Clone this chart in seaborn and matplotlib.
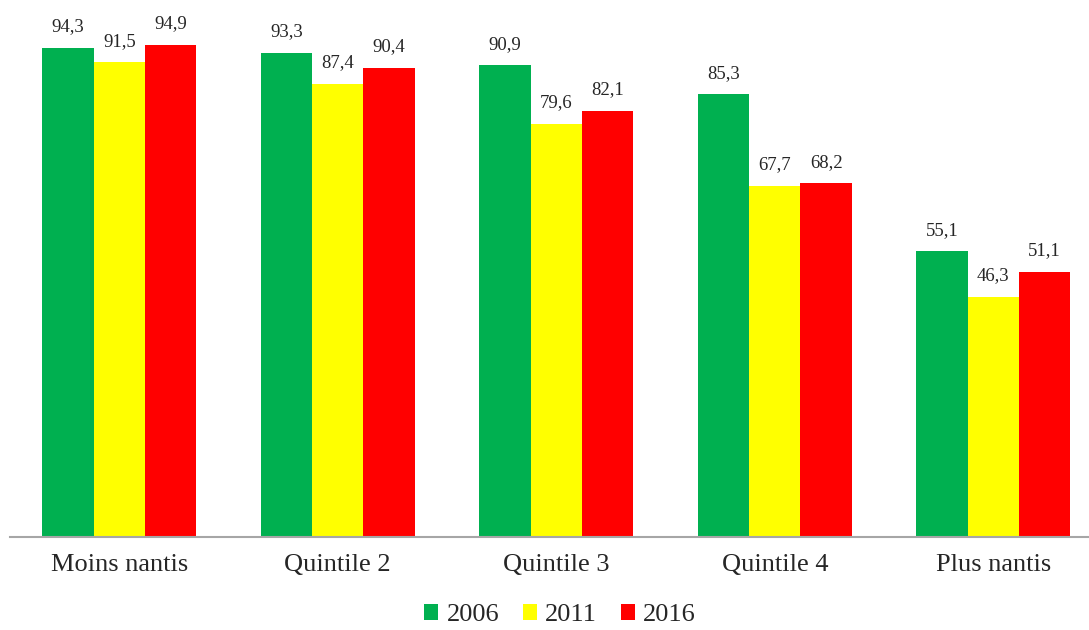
import pandas as pd
import matplotlib
matplotlib.use("Agg")
import matplotlib.pyplot as plt
import seaborn as sns
from matplotlib.patches import Patch

categories = ["Moins nantis", "Quintile 2", "Quintile 3", "Quintile 4", "Plus nantis"]
years = ["2006", "2011", "2016"]
v2006 = [94.3, 93.3, 90.9, 85.3, 55.1]
v2011 = [91.5, 87.4, 79.6, 67.7, 46.3]
v2016 = [94.9, 90.4, 82.1, 68.2, 51.1]
colors = ["#00B050", "#FFFF00", "#FF0000"]

rows = []
for year, vals in zip(years, [v2006, v2011, v2016]):
    for cat, v in zip(categories, vals):
        rows.append({"cat": cat, "year": year, "val": v})
df = pd.DataFrame(rows)

sns.set_style("white")
plt.rcParams["font.family"] = ["Liberation Serif", "DejaVu Serif"]

fig = plt.figure(figsize=(10.89, 6.3), dpi=100)
ax = fig.add_axes([10 / 1089, 1 - 537 / 630, 1092.5 / 1089, 537 / 630])

sns.barplot(data=df, x="cat", y="val", hue="year", order=categories,
            hue_order=years, palette=colors, saturation=1, width=0.707,
            linewidth=0, ax=ax, legend=False)

for cont in ax.containers:
    ax.bar_label(cont, labels=[f"{v:.1f}".replace(".", ",") for v in cont.datavalues],
                 padding=9, fontsize=13.5)

ax.set_xlim(-0.5, 4.5)
ax.set_ylim(0, 103.5)
ax.set_xlabel("")
ax.set_ylabel("")
ax.set_yticks([])
ax.tick_params(axis="x", length=0, pad=12, labelsize=19)
for s in ["top", "right", "left"]:
    ax.spines[s].set_visible(False)
ax.spines["bottom"].set_color("#A6A6A6")
ax.spines["bottom"].set_linewidth(1.5)

handles = [Patch(facecolor=c, edgecolor="none", label=y) for c, y in zip(colors, years)]
fig.legend(handles=handles, loc="center", bbox_to_anchor=(560 / 1089, 1 - 615 / 630),
           ncol=3, frameon=False, fontsize=19, handlelength=0.55, handleheight=0.55,
           handletextpad=0.3, columnspacing=0.9)

fig.savefig("out.png", dpi=100)
